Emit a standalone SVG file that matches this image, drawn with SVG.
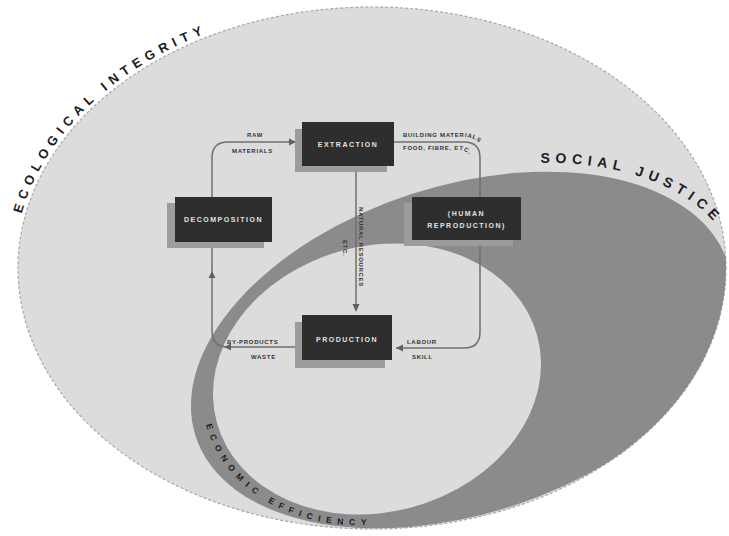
<svg xmlns="http://www.w3.org/2000/svg" width="729" height="536" viewBox="0 0 729 536">
<style>
.box{fill:#2e2e2e}
.shadow{fill:#9c9c9c}
.btxt{font-family:"Liberation Sans",Arial,sans-serif;font-weight:bold;font-size:7px;fill:#e2e2e2;letter-spacing:1.5px;text-anchor:middle}
.lbl{font-family:"Liberation Sans",Arial,sans-serif;font-weight:bold;font-size:6px;fill:#333;letter-spacing:0.7px}
.big{font-family:"Liberation Sans",Arial,sans-serif;font-weight:bold;fill:#1c1c1c}
.conn{fill:none;stroke:#707070;stroke-width:1.5}
.head{fill:#606060}
</style>
<defs>
<clipPath id="outerClip"><ellipse cx="372" cy="268" rx="354" ry="261"/></clipPath>
<path id="ecoPath" d="M 14,268 A 358 265 0 0 1 372,3"/>
<path id="sjPath" d="M 118.1,-157.9 A 289 173 0 0 1 271.4,59.3"/>
<path id="efPath" d="M -177,0 A 177 144 0 0 0 169,42.6"/>
<path id="bmPath1" d="M 403,137 H 462 Q 486,137 486,162"/>
<path id="bmPath2" d="M 403,150 H 458 Q 472,150 472,166"/>
</defs>
<rect width="729" height="536" fill="#ffffff"/>
<g id="ecological-integrity">
<ellipse cx="372" cy="268" rx="354" ry="261" fill="#dcdcdc" stroke="#a8a8a8" stroke-width="1.2" stroke-dasharray="3 2"/>
<text class="big" font-size="13" letter-spacing="5.5"><textPath href="#ecoPath" startOffset="55">ECOLOGICAL INTEGRITY</textPath></text>
</g>
<g id="social-justice">
<g clip-path="url(#outerClip)">
<ellipse cx="0" cy="0" rx="280" ry="164" transform="translate(462,350) rotate(-18)" fill="#8b8b8b"/>
</g>
<g transform="translate(462,350) rotate(-18)">
<text class="big" font-size="14" letter-spacing="5.5"><textPath href="#sjPath" startOffset="15">SOCIAL JUSTICE</textPath></text>
</g>
</g>
<g id="economic-efficiency">
<ellipse cx="377" cy="379" rx="166" ry="133" transform="rotate(-15 377 379)" fill="#dcdcdc"/>
<g transform="translate(377,379) rotate(-15)">
<text class="big" font-size="8.5" letter-spacing="5.8" fill="#2a2a2a"><textPath href="#efPath">ECONOMIC EFFICIENCY</textPath></text>
</g>
</g>
<g id="connectors">
<path class="conn" d="M 296,142 H 228 Q 212,142 212,158 V 200"/>
<path class="conn" d="M 212,242 V 331 Q 212,347 228,347 H 296"/>
<path class="conn" d="M 356,168 V 310"/>
<path class="conn" d="M 394,142 H 464 Q 480,142 480,158 V 200"/>
<path class="conn" d="M 480,242 V 332 Q 480,348 464,348 H 396"/>
<polygon class="head" points="289,138.5 296,142 289,145.5"/>
<polygon class="head" points="352.5,304 356,312 359.5,304"/>
<polygon class="head" points="208.5,278 212,271 215.5,278"/>
<polygon class="head" points="231,343.5 224,347 231,350.5"/>
<polygon class="head" points="403,344.5 396,348 403,351.5"/>
<text class="lbl" x="247" y="137">RAW</text>
<text class="lbl" x="232" y="153">MATERIALS</text>
<text class="lbl"><textPath href="#bmPath1">BUILDING MATERIALS</textPath></text>
<text class="lbl"><textPath href="#bmPath2">FOOD, FIBRE, ETC.</textPath></text>
<text class="lbl" transform="translate(359,207) rotate(90)">NATURAL RESOURCES</text>
<text class="lbl" transform="translate(343,240) rotate(90)">ETC.</text>
<text class="lbl" x="227" y="344">BY-PRODUCTS</text>
<text class="lbl" x="251" y="359">WASTE</text>
<text class="lbl" x="407" y="344">LABOUR</text>
<text class="lbl" x="412" y="359">SKILL</text>
</g>
<g id="extraction">
<rect class="shadow" x="295" y="129" width="92" height="43"/>
<rect class="box" x="302" y="122" width="92" height="44"/>
<text class="btxt" x="348" y="147">EXTRACTION</text>
</g>
<g id="decomposition">
<rect class="shadow" x="167" y="203" width="97" height="45"/>
<rect class="box" x="175" y="197" width="97" height="45"/>
<text class="btxt" x="223.5" y="222">DECOMPOSITION</text>
</g>
<g id="human-reproduction">
<rect class="shadow" x="404" y="203" width="109" height="43" fill="#a8a8a8"/>
<rect class="box" x="412" y="197" width="109" height="43"/>
<text class="btxt" x="466.5" y="216">(HUMAN</text>
<text class="btxt" x="466.5" y="228">REPRODUCTION)</text>
</g>
<g id="production">
<rect class="shadow" x="295" y="322" width="90" height="46"/>
<rect class="box" x="302" y="315" width="90" height="45"/>
<text class="btxt" x="347" y="342">PRODUCTION</text>
</g>
</svg>
